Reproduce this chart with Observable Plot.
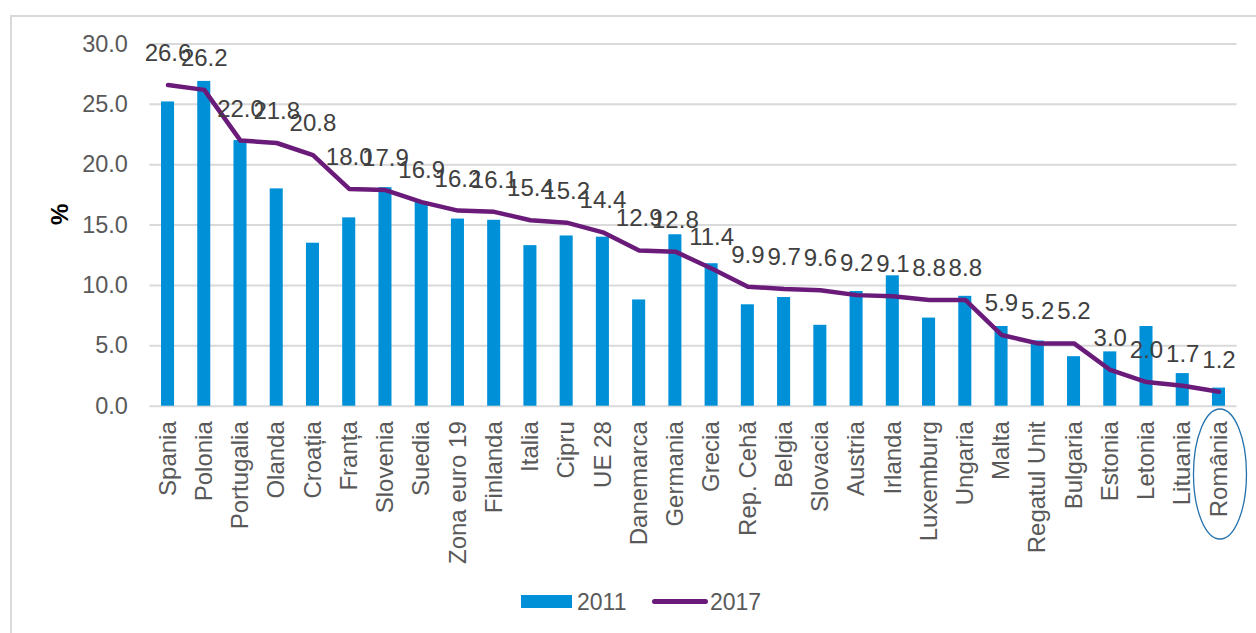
<!DOCTYPE html>
<html>
<head>
<meta charset="utf-8">
<script src="https://cdn.jsdelivr.net/npm/d3@7"></script>
<script src="https://cdn.jsdelivr.net/npm/@observablehq/plot@0.6"></script>
<style>
  html, body { margin: 0; padding: 0; background: #fff; }
  body { width: 1256px; height: 633px; position: relative; overflow: hidden; font-family: "Liberation Sans", Arial, sans-serif; }
  #frame { position: absolute; left: 10px; top: 15px; width: 1260px; height: 640px; border: 2px solid #d9d9d9; box-sizing: border-box; }
  #chart { position: absolute; left: 0; top: 0; }
  #legend { position: absolute; top: 588px; left: 0; width: 1256px; height: 28px; }
  .lg { position: absolute; }
  .lgt { position: absolute; font-size: 23px; color: #595959; top: 0px; line-height: 28px; }
</style>
</head>
<body>
<div id="frame"></div>
<div id="chart"></div>
<div id="legend">
  <div class="lg" style="left:521px; top:7px; width:51px; height:13px; background:#0090d8;"></div>
  <div class="lgt" style="left:577px;">2011</div>
  <div class="lg" style="left:652px; top:11px; width:56px; height:5px; border-radius:3px; background:#6a1b7a;"></div>
  <div class="lgt" style="left:710px;">2017</div>
</div>
<script>
const countries = ["Spania","Polonia","Portugalia","Olanda","Croația","Franța","Slovenia","Suedia","Zona euro 19","Finlanda","Italia","Cipru","UE 28","Danemarca","Germania","Grecia","Rep. Cehă","Belgia","Slovacia","Austria","Irlanda","Luxemburg","Ungaria","Malta","Regatul Unit","Bulgaria","Estonia","Letonia","Lituania","România"];
const values2011 = [25.2,26.9,22.0,18.0,13.5,15.6,18.1,16.9,15.5,15.4,13.3,14.1,14.0,8.8,14.2,11.8,8.4,9.0,6.7,9.5,10.8,7.3,9.1,6.6,5.4,4.1,4.5,6.6,2.7,1.5];
const values2017 = [26.6,26.2,22.0,21.8,20.8,18.0,17.9,16.9,16.2,16.1,15.4,15.2,14.4,12.9,12.8,11.4,9.9,9.7,9.6,9.2,9.1,8.8,8.8,5.9,5.2,5.2,3.0,2.0,1.7,1.2];
const yTicks = [0,5,10,15,20,25,30];

const data = countries.map((c, i) => ({country: c, v2011: values2011[i], v2017: values2017[i]}));

const W = 1256, H = 580;
const plotTop = 43.5, plotBottom = 405.7;
const chart = Plot.plot({
  width: W,
  height: H,
  marginTop: plotTop,
  marginBottom: H - plotBottom,
  marginLeft: 149.4,
  marginRight: 19.4,
  style: {fontFamily: "'Liberation Sans', Arial, sans-serif", background: "transparent", color: "#595959"},
  x: {type: "band", domain: countries, paddingInner: 0.64, paddingOuter: 0.32, round: false, label: null},
  y: {domain: [0, 30], label: null},
  marks: [
    Plot.gridY(yTicks, {stroke: "#d9d9d9", strokeOpacity: 1, strokeWidth: 2}),
    Plot.barY(data, {x: "country", y: "v2011", fill: "#0090d8"}),
    Plot.line(data, {x: "country", y: "v2017", stroke: "#6a1b7a", strokeWidth: 4.5, strokeLinejoin: "round", strokeLinecap: "round"}),
    Plot.text(data, {x: "country", y: "v2017", text: d => d.v2017.toFixed(1), dy: -24, lineAnchor: "bottom", fontSize: 24, fill: "#404040"}),
    Plot.axisY({ticks: yTicks, tickFormat: d => d.toFixed(1), tickSize: 0, tickPadding: 22, fontSize: 23.5, fill: "#595959", label: null}),
    Plot.axisX({tickRotate: -90, tickSize: 0, tickPadding: 15, fontSize: 24, fill: "#595959", label: null}),
    Plot.text(["%"], {frameAnchor: "left", dx: -90, rotate: -90, fontSize: 24, fontWeight: "bold", fill: "#000"})
  ]
});
document.getElementById("chart").appendChild(chart);

// Ellipse around România label, positioned with the chart's x scale
const xs = chart.scale("x");
const cx = xs.apply("România") + xs.bandwidth / 2;
d3.select(chart).append("ellipse")
  .attr("cx", cx + 1.5).attr("cy", 474).attr("rx", 26.5).attr("ry", 65)
  .attr("fill", "none").attr("stroke", "#2473ad").attr("stroke-width", 1.3);
</script>
</body>
</html>
